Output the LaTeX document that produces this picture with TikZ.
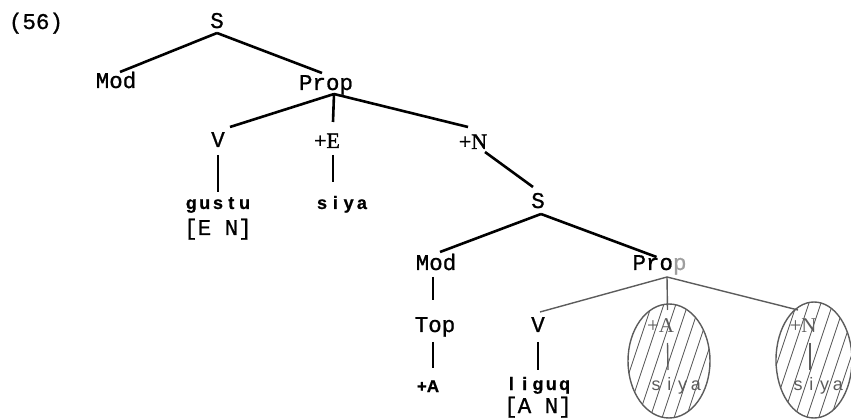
\documentclass[tikz,border=0pt]{standalone}
\usepackage{fontspec}
\newfontfamily\catfont{Liberation Mono}[FakeBold=0.9]
\newfontfamily\featfont{Liberation Serif}[FakeBold=1.5]
\newfontfamily\ghostfont{Liberation Serif}
\newfontfamily\wordfont{Liberation Sans Bold}[FakeBold=0.8]
\newfontfamily\ghostwordfont{Liberation Sans}
\usetikzlibrary{calc}
\definecolor{fadegray}{gray}{0.36}
\definecolor{palegray}{gray}{0.62}
% letter-spaced typewriter words
\newcommand\lt[1]{\makebox[13.3pt]{#1}}
\begin{document}
\begin{tikzpicture}[x=1pt,y=-1pt,
  cat/.style={font=\catfont\fontsize{22.5}{24}\selectfont, anchor=base, inner sep=0pt},
  feat/.style={font=\featfont\fontsize{22}{24}\selectfont, anchor=base, inner sep=0pt},
  word/.style={font=\wordfont\fontsize{18}{20}\selectfont, anchor=base, inner sep=0pt},
  ghostfeat/.style={font=\ghostfont\fontsize{21}{23}\selectfont, anchor=base, inner sep=0pt, text=fadegray},
  ghostword/.style={font=\ghostwordfont\fontsize{18}{20}\selectfont, anchor=base, inner sep=0pt, text=fadegray},
  branch/.style={line width=2.6pt},
  stem/.style={line width=2.2pt},
  faint/.style={draw=fadegray, line width=1.4pt},
  hatch/.style={draw=fadegray, line width=0.9pt}]
\useasboundingbox (0,0) rectangle (851,419);

% example number
\node[cat] (num) at (36,29) {(56)};

% upper clause
\node[cat] (S1) at (217,28) {S};
\node[cat] (Mod1) at (116,88) {Mod};
\node[cat] (Prop1) at (326,90) {Prop};
\node[cat] (V1) at (218,147) {V};
\node[feat] (E1) at (327,148) {+E};
\node[feat] (N1) at (473,149) {+N};
\node[word] (gustu) at (218,209) {\lt{g}\lt{u}\lt{s}\lt{t}\lt{u}};
\node[cat] (EN) at (218,235) {[E N]};
\node[word] (siya1) at (342,209) {\lt{s}\lt{i}\lt{y}\lt{a}};

\draw[branch] ($(S1.base)+(0,5)$) -- ($(Mod1.base)+(4,-16)$);
\draw[branch] ($(S1.base)+(0,5)$) -- ($(Prop1.base)+(-4,-17)$);
\coordinate (p1) at ($(Prop1.base)+(8,4)$);
\draw[branch] (p1) -- ($(V1.base)+(12,-20)$);
\draw[branch] (p1) -- ($(E1.base)+(6,-26)$);
\draw[branch] (p1) -- ($(N1.base)+(-5,-22)$);
\draw[stem] ($(V1.base)+(0,8)$) -- ($(gustu.base)+(0,-17)$);
\draw[stem] ($(E1.base)+(6,7)$) -- ($(siya1.base)+(-9,-27)$);

% embedded clause
\node[cat] (S2) at (538,208) {S};
\node[cat] (Mod2) at (436,270) {Mod};
\node[cat] (Prop2) at (659.5,270) {Pro\textcolor{palegray}{p}};
\node[cat] (Top) at (435,332) {Top};
\node[word, font=\wordfont\fontsize{17}{19}\selectfont] (A0) at (428,392) {+A};
\node[cat] (V2) at (538,332) {V};
\node[word] (liguq) at (538,390) {\lt{l}\lt{i}\lt{g}\lt{u}\lt{q}};
\node[cat] (AN) at (538,413) {[A N]};

\draw[branch] ($(N1.base)+(12,3)$) -- ($(S2.base)+(-5,-21)$);
\coordinate (p2) at ($(S2.base)+(3,6)$);
\draw[branch] (p2) -- ($(Mod2.base)+(4,-18)$);
\draw[branch] (p2) -- ($(Prop2.base)+(-3,-13)$);
\draw[stem] ($(Mod2.base)+(-3,7)$) -- ($(Top.base)+(-2,-32)$);
\draw[stem] ($(Top.base)+(-2,10)$) -- ($(A0.base)+(5,-24)$);
\draw[stem] ($(V2.base)+(0,10)$) -- ($(liguq.base)+(0,-20)$);

% deleted constituents, hatched out
\begin{scope}
  \clip (669,361) ellipse [x radius=41pt, y radius=57pt];
  \foreach \k in {-7,...,7}
    \draw[hatch] (669+\k*12-20,421) -- ++(40,-120);
\end{scope}
\begin{scope}
  \clip (814,360) ellipse [x radius=38pt, y radius=58pt];
  \foreach \k in {-7,...,7}
    \draw[hatch] (814+\k*12-20,420) -- ++(40,-120);
\end{scope}
\draw[faint] (669,361) ellipse [x radius=41pt, y radius=57pt];
\draw[faint] (814,360) ellipse [x radius=38pt, y radius=58pt];

\node[ghostfeat] (A1) at (660.5,333) {+A};
\node[ghostword] (siya2) at (676,390) {\lt{s}\lt{i}\lt{y}\lt{a}};
\node[ghostfeat] (N2) at (803,333) {+N};
\node[ghostword] (siya3) at (818,390) {\lt{s}\lt{i}\lt{y}\lt{a}};

\coordinate (p3) at ($(Prop2.base)+(7.5,7)$);
\draw[faint] (p3) -- ($(V2.base)+(2,-20)$);
\draw[faint] (p3) -- ($(A1.base)+(7,-23)$);
\draw[faint] (p3) -- ($(N2.base)+(-5,-23)$);
\draw[faint] ($(A1.base)+(7,10)$) -- ($(siya2.base)+(-8,-20)$);
\draw[faint] ($(N2.base)+(7,10)$) -- ($(siya3.base)+(-8,-20)$);
\end{tikzpicture}
\end{document}
